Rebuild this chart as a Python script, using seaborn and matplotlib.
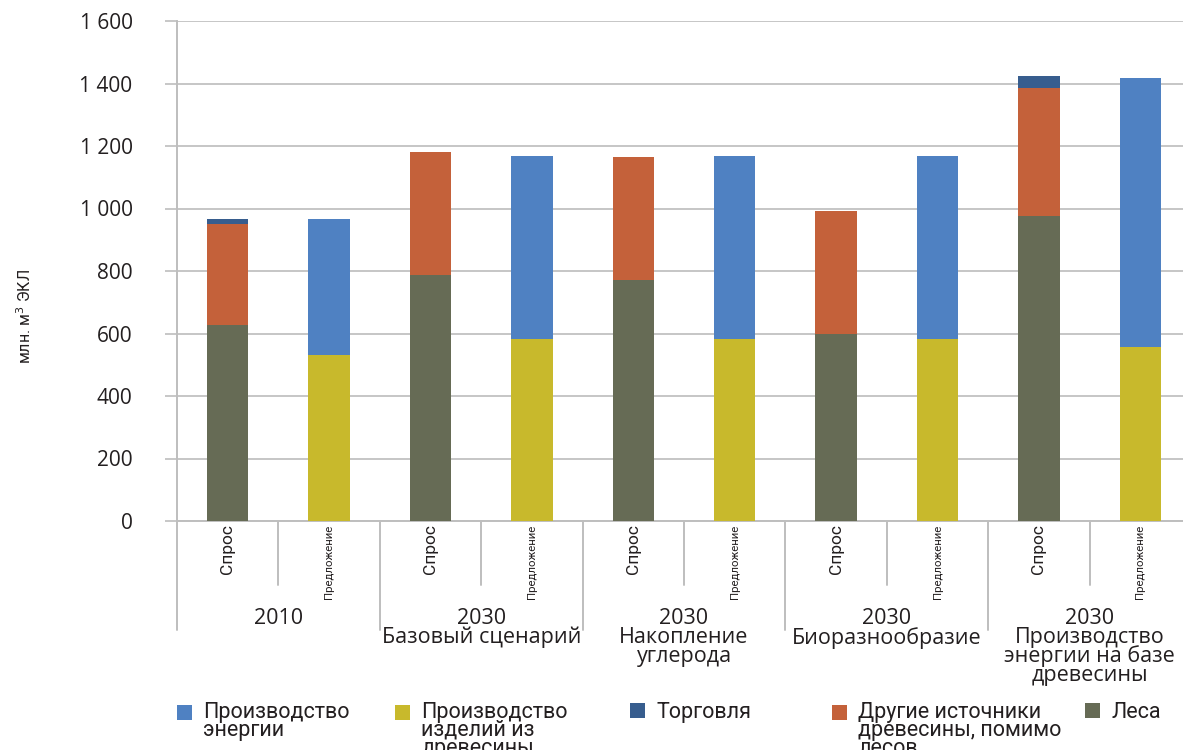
import numpy as np
import pandas as pd
import matplotlib
matplotlib.use("Agg")
import matplotlib.pyplot as plt
import seaborn as sns
from matplotlib.patches import Patch, Rectangle
from matplotlib.legend_handler import HandlerPatch
from matplotlib.transforms import blended_transform_factory

# ---- data -------------------------------------------------------------
bar_kinds = ["Спрос", "Предложение"] * 5
group_labels = [
    "2010",
    "2030\nБазовый сценарий",
    "2030\nНакопление\nуглерода",
    "2030\nБиоразнообразие",
    "2030\nПроизводство\nэнергии на базе\nдревесины",
]

# demand side (Спрос)
forests = [627, 0, 787, 0, 771, 0, 598, 0, 976, 0]
other_sources = [323, 0, 394, 0, 394, 0, 394, 0, 410, 0]
trade = [16, 0, 0, 0, 0, 0, 0, 0, 38, 0]
# supply side (Предложение)
wood_products = [0, 531, 0, 582, 0, 582, 0, 582, 0, 557]
energy = [0, 435, 0, 586, 0, 586, 0, 586, 0, 861]

y_ticks = [0, 200, 400, 600, 800, 1000, 1200, 1400, 1600]

series_names = {
    "energy": "Производство\nэнергии",
    "products": "Производство\nизделий из\nдревесины",
    "trade": "Торговля",
    "other": "Другие источники\nдревесины, помимо\nлесов",
    "forests": "Леса",
}
colors = {
    "energy": "#4F81C2",
    "products": "#C8B92C",
    "trade": "#375D8E",
    "other": "#C4613A",
    "forests": "#666B55",
}

# ---- figure -----------------------------------------------------------
sns.set_theme(style="white")
plt.rcParams["font.family"] = ["Open Sans", "DejaVu Sans"]
narrow = ["Roboto", "DejaVu Sans"]
ink = "#231F20"

W, H = 1183, 750
fig = plt.figure(figsize=(W / 100, H / 100), dpi=100)
# plotting area: x 177..1191 px, y 21..521 px (top..bottom)
ax = fig.add_axes([177 / W, (H - 521) / H, (1191 - 177) / W, 500 / H])

bar_ids = [f"b{i}" for i in range(len(bar_kinds))]
df = pd.DataFrame({
    "bar": bar_ids,
    "forests": forests,
    "products": wood_products,
    "other": other_sources,
    "energy": energy,
    "trade": trade,
})

stack_order = ["forests", "products", "other", "energy", "trade"]
bottom = np.zeros(len(df))
for key in stack_order:
    vals = df[key].to_numpy(dtype=float)
    sns.barplot(data=df, x="bar", y=key, order=bar_ids, bottom=bottom.copy(),
                color=colors[key], saturation=1, width=0.41, errorbar=None,
                linewidth=0, ax=ax, zorder=3)
    bottom += vals

# ---- axes styling -------------------------------------------------------
grey = "#BEBEBE"
ax.set_xlim(-0.5, len(bar_ids) - 0.5)
ax.set_ylim(0, 1600)
ax.set_yticks(y_ticks)
ax.set_yticklabels([f"{v:,}".replace(",", " ") for v in y_ticks])
ax.yaxis.grid(True, color="#C6C6C6", linewidth=1.4, zorder=0)
ax.xaxis.grid(False)
ax.set_axisbelow(True)
for side in ["top", "right"]:
    ax.spines[side].set_visible(False)
for side in ["left", "bottom"]:
    ax.spines[side].set_color(grey)
    ax.spines[side].set_linewidth(1.4)
ax.tick_params(axis="y", left=True, length=9, width=1.2, color=grey, pad=23,
               labelsize=15, labelcolor=ink)
ax.tick_params(axis="x", bottom=False, length=0, pad=2.5)
ax.set_xlabel("")
ax.set_ylabel("")

ax.set_xticks(range(len(bar_ids)))
ax.set_xticklabels(bar_kinds, rotation=90, va="top", ha="center",
                   family=narrow, color=ink)
for lbl, kind in zip(ax.get_xticklabels(), bar_kinds):
    lbl.set_fontsize(12.5 if kind == "Спрос" else 8.2)

fig.text(25 / W, 1 - 316 / H, "млн. м$^3$ ЭКЛ", rotation=90, ha="center",
         va="center", fontsize=11.5, family=narrow, color=ink)

# category separators below the axis
trans = blended_transform_factory(ax.transData, ax.transAxes)
short_y = -(585 - 521) / 500
long_y = -(630 - 521) / 500
for i in range(len(bar_ids) + 1):
    x = i - 0.5
    y_end = long_y if i % 2 == 0 else short_y
    ax.plot([x, x], [0, y_end], transform=trans, color=grey, lw=1.4,
            clip_on=False, zorder=1)

# group labels
for g, text in enumerate(group_labels):
    ax.text(2 * g + 0.5, -(608 - 521) / 500, text, transform=trans,
            ha="center", va="top", fontsize=15.5, linespacing=0.86,
            color=ink)


# ---- legend -------------------------------------------------------------
class TopSquare(HandlerPatch):
    """Square legend key aligned with the first line of a multi-line label."""

    def __init__(self, lift):
        super().__init__()
        self.lift = lift

    def create_artists(self, legend, orig_handle, xdescent, ydescent,
                       width, height, fontsize, trans):
        side = height
        sq = Rectangle((-xdescent, -ydescent + self.lift), side, side,
                       facecolor=orig_handle.get_facecolor(),
                       edgecolor="none", transform=trans)
        return [sq]


legend_x = {"energy": 177, "products": 395, "trade": 630, "other": 832,
            "forests": 1085}
half_line_pt = 6.5
for key, px in legend_x.items():
    label = series_names[key]
    n_lines = label.count("\n") + 1
    handle = Patch(facecolor=colors[key], edgecolor="none", label=label)
    leg = fig.legend(handles=[handle], loc="upper left",
                     bbox_to_anchor=(px / W, 1 - 702 / H), frameon=False,
                     borderpad=0, borderaxespad=0, handlelength=0.68,
                     handleheight=0.68, handletextpad=0.55,
                     handler_map={Patch: TopSquare((n_lines - 1) * half_line_pt)},
                     prop={"family": narrow, "size": 15.5})
    for t in leg.get_texts():
        t.set_linespacing(0.8)
        t.set_color(ink)

fig.savefig("out.png", dpi=100)
